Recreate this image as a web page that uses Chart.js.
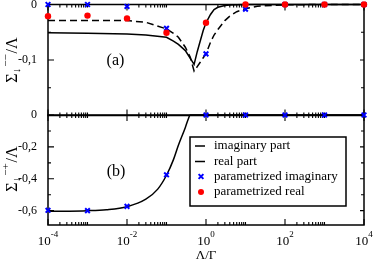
<!DOCTYPE html>
<html><head><meta charset="utf-8">
<script src="https://cdn.jsdelivr.net/npm/chart.js@4"></script>
<style>
html,body{margin:0;padding:0;background:#fff;overflow:hidden}
#wrap{position:relative;width:374px;height:259px;overflow:hidden}
#ca{position:absolute;left:0;top:-20px}
#cb{position:absolute;left:0;top:95px}
</style></head><body>
<div id="wrap"><canvas id="ca" width="374" height="150"></canvas><canvas id="cb" width="374" height="164"></canvas></div>
<script>
// ---------- data ----------
// x values: Λ/Γ
const lamCurveA = [1e-4, 1e-3, 1e-2, 0.03, 0.1, 0.15, 0.2, 0.3, 0.4, 0.5, 0.6, 0.7, 0.85, 1, 1.3, 1.6, 2, 3, 4, 6, 10, 20, 100, 1000, 1e4];
// panel (a): solid = real part, dashed = imaginary part
const realA = [-0.051,-0.052,-0.053,-0.055,-0.059,-0.066,-0.072,-0.083,-0.097,-0.108,-0.085,-0.068,-0.047,-0.033,-0.018,-0.009,-0.005,-0.002,-0.001,-0.0005,-0.0002,0,0,0,0];
const imagA = [-0.029,-0.029,-0.029,-0.032,-0.044,-0.052,-0.059,-0.077,-0.095,-0.120,-0.112,-0.105,-0.096,-0.089,-0.068,-0.055,-0.045,-0.029,-0.021,-0.013,-0.0077,-0.003,-0.0005,0,0];
// panel (b)
const lamCurveB = [1e-4, 1e-3, 3e-3, 1e-2, 0.03, 0.06, 0.1, 0.15, 0.2, 0.3, 0.35, 0.4, 1, 10, 100, 1000, 1e4];
const curveB = [-0.604,-0.600,-0.594,-0.575,-0.528,-0.465,-0.378,-0.28,-0.19,-0.078,-0.03,0,0,0,0,0,0];
// parametrized points
const lamPts = [1e-4, 1e-3, 1e-2, 0.1, 1, 10, 100, 1000, 1e4];
const parImagA = [0, 0, -0.0035, -0.043, -0.089, -0.0085, 0, 0, 0];
const parRealA = [-0.021, -0.020, -0.025, -0.051, -0.033, 0, 0, 0, 0];
const parImagB = [-0.598, -0.600, -0.573, -0.375, 0, 0, 0, 0, 0];
// ticks & labels
const xMajor = [1e-4, 1e-2, 1, 100, 1e4];
const xTickExp = ['-4', '-2', '0', '2', '4'];
const yTickValsA = [0, -0.1];
const yTickLabelsA = ['0', '-0,1'];
const yMinorA = [-0.05, -0.15];
const yTickValsB = [0, -0.2, -0.4, -0.6];
const yTickLabelsB = ['0', '-0,2', '-0,4', '-0,6'];
const yMinorB = [-0.1, -0.3, -0.5];
const legendLabels = ['imaginary part', 'real part', 'parametrized imaginary', 'parametrized real'];
const xTitle = 'Λ/Γ';
const panelA = '(a)', panelB = '(b)';

const FONT = '"Liberation Serif", "Times New Roman", serif';
const BLUE = '#0000ff', RED = '#ff0000';

function pts(xs, ys) { return xs.map((x, i) => ({x: x, y: ys[i]})); }

// minor x ticks: 2..9 x even decades, plus odd decades
function xMinorList() {
  const out = [];
  for (let e = -4; e < 4; e += 2) {
    for (let k = 2; k <= 9; k++) out.push(k * Math.pow(10, e));
    out.push(Math.pow(10, e + 1));
  }
  return out;
}

function frame(chart, yMaj, yMin) {
  const ctx = chart.ctx, a = chart.chartArea;
  const xs = chart.scales.x, ys = chart.scales.y;
  ctx.save();
  ctx.strokeStyle = '#000';
  ctx.lineWidth = 1.5;
  ctx.strokeRect(a.left, a.top, a.right - a.left, a.bottom - a.top);
  ctx.lineWidth = 1.1;
  ctx.beginPath();
  xMajor.forEach(v => { const p = xs.getPixelForValue(v);
    ctx.moveTo(p, a.top); ctx.lineTo(p, a.top + 6);
    ctx.moveTo(p, a.bottom); ctx.lineTo(p, a.bottom - 6); });
  xMinorList().forEach(v => { const p = xs.getPixelForValue(v);
    ctx.moveTo(p, a.top); ctx.lineTo(p, a.top + 3);
    ctx.moveTo(p, a.bottom); ctx.lineTo(p, a.bottom - 3); });
  yMaj.forEach(v => { const p = ys.getPixelForValue(v);
    ctx.moveTo(a.left, p); ctx.lineTo(a.left + 6, p);
    ctx.moveTo(a.right, p); ctx.lineTo(a.right - 4, p); });
  yMin.forEach(v => { const p = ys.getPixelForValue(v);
    ctx.moveTo(a.left, p); ctx.lineTo(a.left + 3, p);
    ctx.moveTo(a.right, p); ctx.lineTo(a.right - 3, p); });
  ctx.stroke();
  ctx.restore();
}

function drawYTitle(ctx, bx, cy, sup) {
  ctx.save();
  ctx.translate(bx, cy);
  ctx.rotate(-Math.PI / 2);
  ctx.fillStyle = '#000';
  ctx.textBaseline = 'alphabetic';
  ctx.textAlign = 'left';
  const big = '16px ' + FONT, sm = '11px ' + FONT;
  ctx.font = big;
  const wS = ctx.measureText('Σ').width, wL = ctx.measureText('/Λ').width;
  ctx.font = sm;
  const wSub = ctx.measureText('↓').width, wSup = ctx.measureText(sup).width;
  const total = wS + wSub + wSup + 2 + wL;
  let x = -total / 2;
  ctx.font = big; ctx.fillText('Σ', x, 0); x += wS;
  ctx.font = sm; ctx.fillText('↓', x, 3); x += wSub + 1;
  ctx.fillText(sup, x, -8); x += wSup + 1;
  ctx.font = big; ctx.fillText('/Λ', x, 0);
  ctx.restore();
}

function yScale(min, vals, labels) {
  return {
    type: 'linear', position: 'left', min: min, max: 0,
    grid: {display: false}, border: {display: false},
    afterBuildTicks: s => { s.ticks = vals.map(v => ({value: v})); },
    afterFit: s => { s.width = 48; },
    ticks: {
      padding: 3, color: '#000', font: {family: FONT, size: 12},
      callback: v => { const i = vals.findIndex(t => Math.abs(t - v) < 1e-9); return i >= 0 ? labels[i] : ''; }
    }
  };
}
const xScale = {type: 'logarithmic', min: 1e-4, max: 1e4, display: false};

const lineDs = (label, data, dash, mono) => ({
  label: label, data: data, borderColor: '#000', borderWidth: 1.5, borderDash: dash,
  pointRadius: 0, tension: 0, fill: false, clip: false,
  cubicInterpolationMode: mono ? 'monotone' : 'default'
});
const crossDs = (label, data) => ({
  label: label, data: data, showLine: false, pointStyle: 'crossRot', pointRadius: 3.3,
  borderColor: BLUE, backgroundColor: BLUE, pointBorderWidth: 2, clip: false
});
const dotDs = (label, data) => ({
  label: label, data: data, showLine: false, pointStyle: 'circle', pointRadius: 3.2,
  borderColor: RED, backgroundColor: RED, pointBorderWidth: 0, clip: false
});

const commonOpts = {
  responsive: false, animation: false, events: [],
  plugins: {legend: {display: false}, tooltip: {enabled: false}}
};

new Chart(document.getElementById('ca'), {
  type: 'line',
  data: {datasets: [
    dotDs('parametrized real', pts(lamPts, parRealA)),
    crossDs('parametrized imaginary', pts(lamPts, parImagA)),
    lineDs('real part', pts(lamCurveA, realA), [], false),
    lineDs('imaginary part', pts(lamCurveA, imagA), [7, 4], false)
  ]},
  options: Object.assign({}, commonOpts, {
    layout: {padding: {left: 0, right: 10, top: 24.5, bottom: 14.5}},
    scales: {x: xScale, y: yScale(-0.2, yTickValsA, yTickLabelsA)}
  }),
  plugins: [{
    id: 'decoA',
    beforeDatasetsDraw(chart) { frame(chart, yTickValsA.concat([-0.2]), yMinorA); },
    afterDraw(chart) {
      const ctx = chart.ctx;
      drawYTitle(ctx, 17, 80, '−−');
      ctx.save(); ctx.fillStyle = '#000'; ctx.font = '16px ' + FONT;
      ctx.textAlign = 'center'; ctx.textBaseline = 'middle';
      ctx.fillText(panelA, 115.5, 81); ctx.restore();
    }
  }]
});

new Chart(document.getElementById('cb'), {
  type: 'line',
  data: {datasets: [
    crossDs('parametrized imaginary', pts(lamPts, parImagB)),
    lineDs('imaginary part', pts(lamCurveB, curveB), [], true)
  ]},
  options: Object.assign({}, commonOpts, {
    layout: {padding: {left: 0, right: 10, top: 20, bottom: 34}},
    scales: {x: xScale, y: yScale(-0.69, yTickValsB, yTickLabelsB)}
  }),
  plugins: [{
    id: 'decoB',
    beforeDatasetsDraw(chart) { frame(chart, yTickValsB, yMinorB); },
    afterDraw(chart) {
      const ctx = chart.ctx, xs = chart.scales.x, a = chart.chartArea;
      drawYTitle(ctx, 17, 74, '−+');
      ctx.save();
      ctx.fillStyle = '#000';
      ctx.font = '16px ' + FONT; ctx.textAlign = 'center'; ctx.textBaseline = 'middle';
      ctx.fillText(panelB, 116, 77);
      // x tick labels 10^n
      ctx.textAlign = 'left'; ctx.textBaseline = 'alphabetic';
      xMajor.forEach((v, i) => {
        const p = xs.getPixelForValue(v);
        ctx.font = '13px ' + FONT; const w1 = ctx.measureText('10').width;
        ctx.font = '9px ' + FONT; const w2 = ctx.measureText(xTickExp[i]).width;
        const x0 = p - (w1 + w2) / 2;
        ctx.font = '13px ' + FONT; ctx.fillText('10', x0, a.bottom + 20);
        ctx.font = '9px ' + FONT; ctx.fillText(xTickExp[i], x0 + w1, a.bottom + 12);
      });
      ctx.font = '13px ' + FONT; ctx.textAlign = 'center';
      ctx.fillText(xTitle, (a.left + a.right) / 2, a.bottom + 33.5);
      // legend box
      const bx = 190, by = 42, bw = 156, bh = 69;
      ctx.fillStyle = '#fff'; ctx.fillRect(bx, by, bw, bh);
      ctx.strokeStyle = '#000'; ctx.lineWidth = 1.5; ctx.strokeRect(bx, by, bw, bh);
      const rows = [51, 66.5, 81.5, 97];
      ctx.lineWidth = 1.5; ctx.strokeStyle = '#000';
      ctx.beginPath();
      ctx.moveTo(195, rows[0]); ctx.lineTo(205, rows[0]);
      ctx.moveTo(195, rows[1]); ctx.lineTo(205, rows[1]);
      ctx.stroke();
      ctx.strokeStyle = BLUE; ctx.lineWidth = 2; ctx.beginPath();
      const r = 2.4, cx = 201;
      ctx.moveTo(cx - r, rows[2] - r); ctx.lineTo(cx + r, rows[2] + r);
      ctx.moveTo(cx + r, rows[2] - r); ctx.lineTo(cx - r, rows[2] + r);
      ctx.stroke();
      ctx.fillStyle = RED; ctx.beginPath(); ctx.arc(cx, rows[3], 3, 0, Math.PI * 2); ctx.fill();
      ctx.fillStyle = '#000'; ctx.font = '13px ' + FONT; ctx.textAlign = 'left'; ctx.textBaseline = 'middle';
      legendLabels.forEach((t, i) => ctx.fillText(t, 214, rows[i]));
      ctx.restore();
    }
  }]
});
</script>
</body></html>
